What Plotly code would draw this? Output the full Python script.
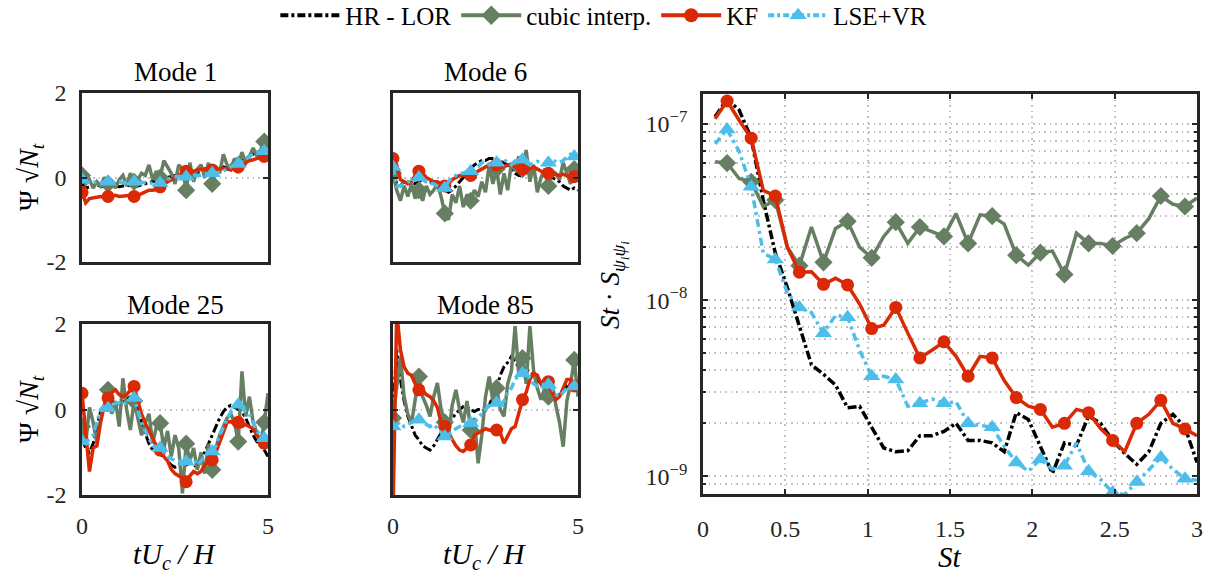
import numpy as np
import plotly.graph_objects as go

# ---------------- data ----------------
T = np.round(np.linspace(0, 5, 51), 2)          # time grid tU_c/H
ST = np.round(np.arange(1, 42) * 3 / 41, 4)     # frequency bins St

# Mode 1
B1 = [-0.15,-0.25,-0.22,-0.2,-0.18,-0.2,-0.22,-0.2,-0.18,-0.2,-0.22,-0.2,-0.18,-0.2,-0.22,-0.2,-0.18,-0.15,-0.12,-0.1,-0.08,-0.05,-0.02,0.0,0.02,0.05,0.05,0.08,0.1,0.12,0.1,0.12,0.15,0.18,0.2,0.18,0.2,0.22,0.25,0.22,0.25,0.3,0.35,0.4,0.45,0.5,0.55,0.6,0.62,0.6,0.58]
G1 = [0.05,-0.15,-0.05,-0.25,-0.1,-0.2,0.0,-0.15,-0.1,-0.25,-0.05,0.05,-0.2,0.1,-0.1,-0.05,0.1,0.05,0.3,-0.05,0.15,0.0,0.4,0.25,0.1,-0.15,0.3,0.2,-0.3,0.35,-0.1,0.2,0.3,0.0,0.35,-0.15,0.25,0.1,0.55,0.3,0.2,0.45,0.3,0.6,0.35,0.5,0.7,0.5,0.65,0.85,0.7]
R1 = [-0.35,-0.6,-0.5,-0.48,-0.45,-0.45,-0.47,-0.45,-0.42,-0.42,-0.45,-0.45,-0.43,-0.42,-0.45,-0.42,-0.38,-0.35,-0.3,-0.3,-0.28,-0.22,-0.15,-0.1,-0.05,0.0,0.05,0.1,0.15,0.15,0.15,0.18,0.2,0.2,0.22,0.18,0.2,0.2,0.22,0.2,0.18,0.22,0.25,0.3,0.35,0.4,0.42,0.45,0.48,0.5,0.5]
U1 = [-0.05,-0.1,-0.12,-0.1,-0.1,-0.12,-0.1,-0.1,-0.12,-0.1,-0.1,-0.12,-0.12,-0.1,-0.1,-0.12,-0.1,-0.12,-0.14,-0.12,-0.12,-0.13,-0.1,-0.05,0.0,0.02,0.03,0.02,0.02,0.05,0.05,0.06,0.05,0.08,0.1,0.1,0.1,0.12,0.15,0.2,0.25,0.3,0.32,0.38,0.45,0.5,0.55,0.6,0.6,0.62,0.6]

# Mode 6
B6 = [0.2,-0.15,-0.2,-0.1,-0.15,-0.1,-0.15,-0.1,-0.05,-0.1,-0.1,-0.15,-0.15,-0.25,-0.3,-0.35,-0.3,-0.2,-0.1,0.0,0.1,0.2,0.3,0.35,0.4,0.4,0.45,0.45,0.42,0.4,0.35,0.3,0.2,0.1,0.05,0.05,0.1,0.15,0.2,0.2,0.15,0.1,0.05,0.0,-0.05,-0.1,-0.2,-0.25,-0.3,-0.25,-0.3]
G6 = [0.1,-0.3,-0.55,-0.2,-0.45,-0.15,-0.5,-0.3,-0.55,-0.2,-0.4,-0.3,-0.15,-0.45,-0.85,-1.0,-0.4,-0.6,-0.2,-0.7,-0.4,-0.55,-0.3,-0.45,-0.1,-0.35,0.3,-0.15,0.2,-0.4,0.1,-0.3,0.35,0.15,0.5,0.2,0.65,-0.1,0.3,-0.35,0.0,0.2,-0.2,0.15,0.1,-0.05,0.35,0.1,-0.15,0.2,0.15]
R6 = [0.45,0.3,-0.05,-0.1,-0.15,-0.1,0.05,0.15,0.1,0.0,-0.05,-0.1,-0.1,-0.15,-0.2,-0.15,-0.05,0.0,0.05,0.05,0.1,0.05,0.1,0.15,0.2,0.25,0.3,0.35,0.3,0.25,0.25,0.3,0.3,0.25,0.2,0.2,0.15,0.2,0.25,0.2,0.15,0.1,0.1,0.08,0.05,0.05,0.08,0.05,0.0,0.02,0.05]
U6 = [0.25,-0.2,-0.2,-0.15,-0.1,-0.1,-0.05,0.0,-0.05,-0.1,-0.15,-0.15,-0.2,-0.25,-0.25,-0.1,0.0,0.05,0.1,0.1,0.15,0.15,0.2,0.25,0.35,0.38,0.3,0.3,0.35,0.4,0.42,0.35,0.3,0.4,0.4,0.42,0.35,0.3,0.35,0.38,0.35,0.3,0.35,0.4,0.38,0.35,0.4,0.5,0.55,0.5,0.45]

# Mode 25
B25 = [-0.7,-0.9,-1.0,-0.8,-0.4,-0.05,0.1,0.15,0.2,0.15,0.05,0.15,0.25,0.3,0.3,0.05,-0.3,-0.55,-0.8,-0.95,-1.0,-1.05,-1.1,-1.2,-1.3,-1.35,-1.3,-1.25,-1.3,-1.25,-1.3,-1.35,-1.2,-1.0,-0.8,-0.6,-0.4,-0.2,-0.05,0.05,0.1,0.05,0.0,-0.05,-0.2,-0.4,-0.6,-0.75,-0.85,-0.95,-1.1]
G25 = [-0.4,-0.8,0.05,-0.3,-0.79,-0.2,0.1,0.46,-0.1,0.2,-0.4,0.73,0.0,-0.48,0.2,-0.2,-0.6,-0.32,-0.1,-0.79,-0.4,-0.32,-0.9,-0.5,-1.1,-0.6,-0.9,-1.96,-0.8,-1.2,-0.9,-1.41,-1.0,-1.5,-0.8,-1.41,-0.9,-0.6,-0.4,-0.2,-0.1,-0.3,-0.75,0.89,-0.16,0.3,-0.3,-0.55,-0.8,-0.3,0.38]
R25 = [0.38,-0.5,-1.45,-0.9,-0.85,-0.3,0.1,0.27,0.4,0.46,0.35,0.3,0.35,0.45,0.54,0.2,-0.1,-0.32,-0.5,-0.7,-0.85,-0.95,-1.1,-1.2,-1.4,-1.5,-1.55,-1.6,-1.69,-1.55,-1.45,-1.5,-1.45,-1.3,-1.2,-1.18,-1.0,-0.75,-0.5,-0.3,-0.28,-0.35,-0.3,-0.4,-0.35,-0.4,-0.45,-0.6,-0.7,-0.79,-0.87]
U25 = [-0.75,-0.75,-0.7,-0.6,-0.3,0.0,0.1,0.03,0.1,0.15,0.15,0.1,0.2,0.25,0.27,0.0,-0.3,-0.5,-0.7,-0.85,-0.87,-0.9,-1.0,-1.1,-1.15,-1.2,-1.2,-1.25,-1.22,-1.2,-1.15,-1.3,-1.2,-1.1,-1.0,-0.98,-0.85,-0.6,-0.4,-0.2,-0.05,0.05,0.11,0.05,-0.05,-0.1,-0.3,-0.5,-0.6,-0.67,-0.7]

# Mode 85
B85 = [0.0,1.4,0.7,0.2,-0.16,-0.4,-0.6,-0.71,-0.85,-0.9,-0.95,-0.85,-0.7,-0.55,-0.4,-0.3,-0.2,-0.1,0.0,0.07,0.05,0.0,-0.05,0.0,0.0,-0.02,0.1,0.3,0.5,0.8,1.0,1.1,1.24,1.1,1.0,0.95,0.93,0.9,0.8,0.7,0.6,0.5,0.4,0.35,0.3,0.35,0.45,0.55,0.6,0.62,0.62]
G85 = [-0.2,0.5,1.24,0.3,-0.1,-0.32,0.2,0.77,0.3,0.1,-0.16,0.3,0.62,0.0,-0.3,-0.63,0.1,0.46,0.0,-0.3,0.2,-0.48,-0.2,-1.26,-0.6,0.3,0.77,0.2,0.5,0.0,-0.16,0.6,0.9,1.95,0.8,1.2,0.6,1.95,0.9,0.5,0.23,0.5,0.3,0.62,0.1,-0.3,-0.87,0.2,0.6,1.16,0.3]
R85 = [-2.5,2.3,1.4,1.0,0.85,0.8,0.6,0.46,0.45,0.35,0.3,0.2,0.05,-0.32,-0.4,-0.55,-0.7,-0.85,-0.95,-0.98,-0.9,-0.83,-0.6,-0.55,-0.5,-0.45,-0.48,-0.5,-0.48,-0.55,-0.79,-0.6,-0.45,-0.4,-0.1,0.23,0.4,0.7,0.85,0.8,0.6,0.7,0.65,0.4,0.23,0.3,0.5,0.7,0.7,0.55,0.54]
U85 = [-0.4,-0.35,-0.3,-0.4,-0.35,-0.3,-0.25,-0.24,-0.3,-0.35,-0.4,-0.35,-0.45,-0.55,-0.63,-0.6,-0.5,-0.45,-0.4,-0.35,-0.3,-0.32,-0.3,-0.2,-0.1,0.0,0.1,0.15,0.15,0.1,0.2,0.4,0.5,0.7,0.8,0.85,0.9,0.7,0.6,0.55,0.6,0.58,0.58,0.5,0.35,0.3,0.4,0.5,0.55,0.54,0.54]

# Spectra  St * S
S_HR = [1.1e-7,1.38e-7,1.2e-7,8.3e-8,3.7e-8,1.85e-8,1.18e-8,7.0e-9,4.3e-9,3.8e-9,3.3e-9,2.45e-9,2.5e-9,1.9e-9,1.45e-9,1.38e-9,1.4e-9,1.7e-9,1.7e-9,1.8e-9,2.0e-9,1.6e-9,1.6e-9,1.55e-9,1.38e-9,2.3e-9,2.1e-9,1.48e-9,1.04e-9,1.55e-9,1.5e-9,2.2e-9,2.0e-9,1.6e-9,1.35e-9,1.17e-9,1.38e-9,2.0e-9,2.25e-9,1.9e-9,1.2e-9]
S_CUBIC = [6.1e-8,6.0e-8,4.9e-8,4.7e-8,3.4e-8,3.7e-8,2.0e-8,1.57e-8,2.6e-8,1.64e-8,2.55e-8,2.8e-8,2.0e-8,1.74e-8,2.3e-8,2.77e-8,2.1e-8,2.6e-8,2.45e-8,2.3e-8,3.1e-8,2.1e-8,3.05e-8,3.0e-8,2.7e-8,1.8e-8,1.58e-8,1.86e-8,1.9e-8,1.4e-8,2.4e-8,2.1e-8,2.1e-8,2.03e-8,2.24e-8,2.4e-8,2.9e-8,3.9e-8,3.5e-8,3.4e-8,3.8e-8]
S_KF = [1.07e-7,1.35e-7,1.05e-7,8.3e-8,4.2e-8,3.9e-8,2.0e-8,1.44e-8,1.45e-8,1.23e-8,1.33e-8,1.22e-8,9.5e-9,6.9e-9,7.2e-9,9.1e-9,6.5e-9,4.7e-9,5.2e-9,5.8e-9,4.8e-9,3.7e-9,4.8e-9,4.7e-9,3.5e-9,2.8e-9,2.5e-9,2.4e-9,1.9e-9,2.0e-9,2.4e-9,2.3e-9,1.87e-9,1.6e-9,1.38e-9,2.0e-9,2.25e-9,2.7e-9,2.0e-9,1.86e-9,1.7e-9]
S_LSE = [7.7e-8,9.3e-8,7.0e-8,4.4e-8,1.85e-8,1.7e-8,1.1e-8,9.1e-9,8.5e-9,6.5e-9,8.2e-9,8.0e-9,5.2e-9,3.7e-9,3.7e-9,3.55e-9,2.5e-9,2.6e-9,2.75e-9,2.6e-9,2.65e-9,2.0e-9,1.95e-9,1.9e-9,1.48e-9,1.2e-9,1.07e-9,1.25e-9,1.1e-9,1.15e-9,1.55e-9,1.07e-9,9.6e-10,8.1e-10,7.9e-10,9.3e-10,1.1e-9,1.28e-9,1.1e-9,9.7e-10,9.5e-10]

MODES = ["Mode 1", "Mode 6", "Mode 25", "Mode 85"]
YTICKS_LEFT = [-2, 0, 2]
XTICKS_LEFT = [0, 5]
XTICKS_RIGHT = [0, 0.5, 1, 1.5, 2, 2.5, 3]
YTICKS_RIGHT = [1e-9, 1e-8, 1e-7]
YTICKTEXT_RIGHT = ["10<sup>\u22129</sup>", "10<sup>\u22128</sup>", "10<sup>\u22127</sup>"]
NAMES = ["HR - LOR", "cubic interp.", "KF", "LSE+VR"]

# ---------------- style ----------------
W, H = 1215, 574
FONT = "'Liberation Serif', 'Times New Roman', 'DejaVu Serif', serif"
C_BLACK = "#000000"
C_GREEN = "#667f63"
C_RED = "#d92a05"
C_BLUE = "#4dbeea"
AX_COL = "#262626"
GRID_COL = "rgba(150,150,150,0.6)"
GRID_DASH = "1.5px,4px"
DASH_K = "9px,3px,3px,3px"
DASH_B = "8px,4px,3px,4px"

def px2x(px):
    return px / W

def py2y(py):
    return 1 - py / H

fig = go.Figure()

panels = [
    (82, 268, 93, 262),
    (393, 578, 93, 262),
    (82, 268, 324, 495),
    (393, 578, 324, 495),
]
right_box = (703, 1197, 94, 494)

def mk_sizes(n, size, step=7, start=0):
    return [size if (i - start) % step == 0 and i >= start else 0 for i in range(n)]

def mk(symbol, color, sizes):
    return dict(symbol=symbol, color=color, size=sizes, opacity=1,
                line=dict(width=0, color=color))

series_left = [
    (B1, G1, R1, U1),
    (B6, G6, R6, U6),
    (B25, G25, R25, U25),
    (B85, G85, R85, U85),
]

axis_common = dict(
    showline=True, linecolor=AX_COL, linewidth=2.5, mirror="ticks",
    ticks="inside", ticklen=5, tickwidth=2, tickcolor=AX_COL,
    zeroline=False, tickfont=dict(family=FONT, size=24, color="#262626"),
    showgrid=True, gridcolor=GRID_COL, griddash=GRID_DASH, gridwidth=1.5,
)

layout = dict(
    width=W, height=H, margin=dict(l=0, r=0, t=0, b=0, autoexpand=False),
    paper_bgcolor="white", plot_bgcolor="white",
    font=dict(family=FONT, size=24, color="black"),
    showlegend=True,
    legend=dict(orientation="h", x=0.497, xanchor="center", y=1.013, yanchor="top",
                font=dict(family=FONT, size=25, color="black"),
                itemwidth=60, tracegroupgap=0, bgcolor="rgba(0,0,0,0)"),
)

n = len(T)
for i, ((x0, x1, yt, yb), (b, g, r, u)) in enumerate(zip(panels, series_left)):
    xa = f"x{i+1}" if i > 0 else "x"
    ya = f"y{i+1}" if i > 0 else "y"
    fig.add_trace(go.Scatter(x=T, y=b, mode="lines", xaxis=xa, yaxis=ya, showlegend=False,
                             line=dict(color=C_BLACK, width=3, dash=DASH_K)))
    fig.add_trace(go.Scatter(x=T, y=g, mode="lines+markers", xaxis=xa, yaxis=ya, showlegend=False,
                             line=dict(color=C_GREEN, width=3.5),
                             marker=mk("diamond", C_GREEN, mk_sizes(n, 14))))
    fig.add_trace(go.Scatter(x=T, y=r, mode="lines+markers", xaxis=xa, yaxis=ya, showlegend=False,
                             line=dict(color=C_RED, width=3.5),
                             marker=mk("circle", C_RED, mk_sizes(n, 13))))
    fig.add_trace(go.Scatter(x=T, y=u, mode="lines+markers", xaxis=xa, yaxis=ya, showlegend=False,
                             line=dict(color=C_BLUE, width=3.5, dash=DASH_B),
                             marker=mk("triangle-up", C_BLUE, mk_sizes(n, 15))))
    key = "" if i == 0 else str(i + 1)
    layout["xaxis" + key] = dict(axis_common, domain=[px2x(x0), px2x(x1)], range=[0, 5],
                                 tickvals=XTICKS_LEFT, showticklabels=(i >= 2),
                                 ticklabelstandoff=7, anchor=ya)
    layout["yaxis" + key] = dict(axis_common, domain=[py2y(yb), py2y(yt)], range=[-2, 2],
                                 tickvals=YTICKS_LEFT, ticktext=["-2", "0", "2"],
                                 showticklabels=(i % 2 == 0), ticklabelstandoff=8, anchor=xa)

# right panel
xa, ya = "x5", "y5"
NS = len(ST)
fig.add_trace(go.Scatter(x=ST, y=S_HR, mode="lines", name=NAMES[0], xaxis=xa, yaxis=ya,
                         showlegend=False, line=dict(color=C_BLACK, width=3.5, dash=DASH_K)))
fig.add_trace(go.Scatter(x=ST, y=S_CUBIC, mode="lines+markers", name=NAMES[1], xaxis=xa, yaxis=ya,
                         showlegend=False, line=dict(color=C_GREEN, width=3.5),
                         marker=mk("diamond", C_GREEN, mk_sizes(NS, 14, 2, 1))))
fig.add_trace(go.Scatter(x=ST, y=S_KF, mode="lines+markers", name=NAMES[2], xaxis=xa, yaxis=ya,
                         showlegend=False, line=dict(color=C_RED, width=3.5),
                         marker=mk("circle", C_RED, mk_sizes(NS, 13, 2, 1))))
fig.add_trace(go.Scatter(x=ST, y=S_LSE, mode="lines+markers", name=NAMES[3], xaxis=xa, yaxis=ya,
                         showlegend=False, line=dict(color=C_BLUE, width=3.5, dash=DASH_B),
                         marker=mk("triangle-up", C_BLUE, mk_sizes(NS, 15, 2, 1))))

# legend entries (fixed marker sizes)
leg_styles = [
    dict(mode="lines", line=dict(color=C_BLACK, width=4, dash="8px,3px,3px,3px")),
    dict(mode="lines+markers", line=dict(color=C_GREEN, width=4),
         marker=dict(symbol="diamond", color=C_GREEN, size=15)),
    dict(mode="lines+markers", line=dict(color=C_RED, width=4),
         marker=dict(symbol="circle", color=C_RED, size=14)),
    dict(mode="lines+markers", line=dict(color=C_BLUE, width=4, dash="6px,3px,3px,3px"),
         marker=dict(symbol="triangle-up", color=C_BLUE, size=15)),
]
for nm, st in zip(NAMES, leg_styles):
    fig.add_trace(go.Scatter(x=[None], y=[None], name=nm, xaxis=xa, yaxis=ya, showlegend=True, **st))

minor_vals = [m * 10.0 ** e for e in (-10, -9, -8, -7) for m in range(2, 10)]
x0, x1, yt, yb = right_box
layout["xaxis5"] = dict(axis_common, domain=[px2x(x0), px2x(x1)], range=[0, 3],
                        tickvals=XTICKS_RIGHT, ticktext=["0", "0.5", "1", "1.5", "2", "2.5", "3"],
                        ticklabelstandoff=11, anchor=ya)
layout["yaxis5"] = dict(axis_common, type="log", domain=[py2y(yb), py2y(yt)],
                        range=[-9.10, -6.83], tickvals=YTICKS_RIGHT, ticktext=YTICKTEXT_RIGHT,
                        ticklabelstandoff=8, anchor=xa,
                        minor=dict(tickvals=minor_vals, ticks="inside", ticklen=3, tickwidth=2,
                                   tickcolor=AX_COL, showgrid=True, gridcolor=GRID_COL,
                                   griddash=GRID_DASH, gridwidth=1.5))

fig.update_layout(**layout)

# annotations (titles and axis labels)
ann = []
titles_pos = [(175, 72), (485, 72), (175, 305), (485, 305)]
for t, (ax, ay) in zip(MODES, titles_pos):
    ann.append(dict(text=t, x=px2x(ax), y=py2y(ay), xref="paper", yref="paper",
                    xanchor="center", yanchor="middle",
                    showarrow=False, font=dict(family=FONT, size=27)))
for ay in (177, 409):
    ann.append(dict(text="\u03a8 \u221a<i>N</i><sub><i>t</i></sub>", x=px2x(30), y=py2y(ay),
                    xref="paper", yref="paper", textangle=-90, xanchor="center", yanchor="middle",
                    showarrow=False, font=dict(family=FONT, size=28)))
for ax in (175, 485):
    ann.append(dict(text="<i>tU</i><sub><i>c</i></sub><i> / H</i>", x=px2x(ax), y=py2y(556),
                    xref="paper", yref="paper", xanchor="center", yanchor="middle",
                    showarrow=False, font=dict(family=FONT, size=29)))
ann.append(dict(text="<i>St</i>", x=px2x(950), y=py2y(557), xref="paper", yref="paper",
                xanchor="center", yanchor="middle",
                showarrow=False, font=dict(family=FONT, size=29)))
ann.append(dict(text="<i>St</i> \u00b7 <i>S</i><sub><i>\u03c8<sub>i</sub>\u03c8<sub>i</sub></i></sub>",
                x=px2x(613), y=py2y(285), xref="paper", yref="paper", textangle=-90,
                xanchor="center", yanchor="middle",
                showarrow=False, font=dict(family=FONT, size=27)))
fig.update_layout(annotations=ann)

fig.write_html("out.html",
               post_script="document.body.style.margin='0';document.body.style.overflow='hidden';")
